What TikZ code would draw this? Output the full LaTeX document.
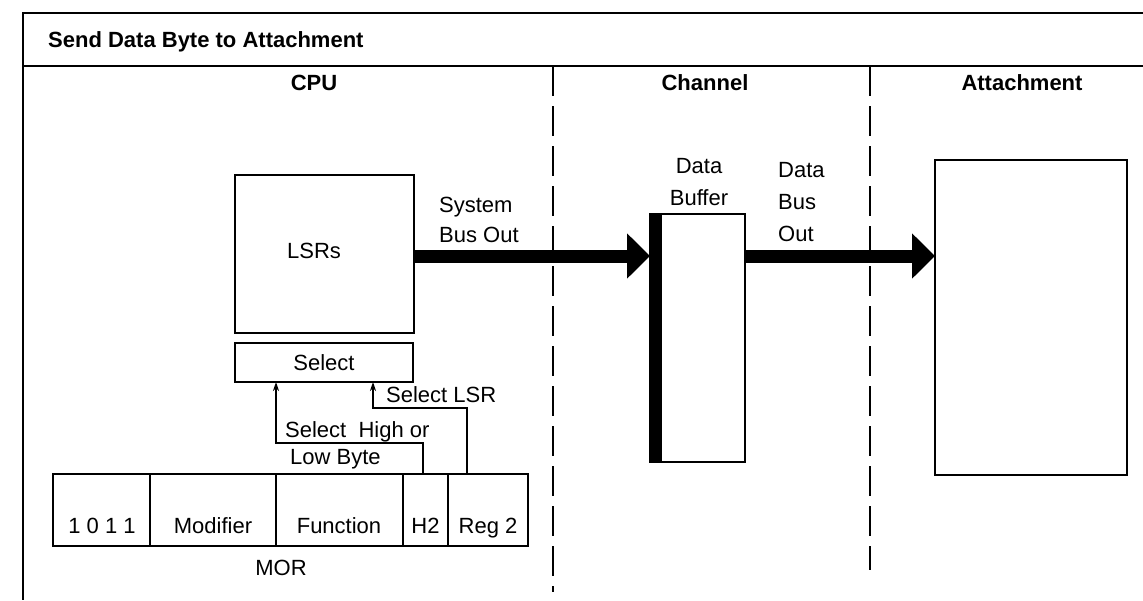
\documentclass[tikz,border=0pt]{standalone}
\usepackage{fontspec}
\setmainfont{Liberation Sans}
\usetikzlibrary{arrows.meta}
\begin{document}
\begin{tikzpicture}[x=1pt,y=-1pt,
  box/.style={draw, line width=2.5pt, inner sep=0pt, outer sep=0pt, font=\fontsize{22}{30}\selectfont},
  lbl/.style={font=\fontsize{22}{30}\selectfont, inner sep=0pt},
  hdr/.style={font=\fontsize{22}{26}\selectfont\bfseries, inner sep=0pt},
  frame/.style={line width=2.5pt},
  divline/.style={line width=2.5pt, dash pattern=on 30pt off 10pt},
  cellline/.style={line width=1.5pt},
  bigarrow/.style={line width=13pt, -{Triangle[length=23pt,width=44pt]}},
  thinarrow/.style={line width=2pt, -{Stealth[length=9pt,width=6pt]}}
]
\useasboundingbox (0,0) rectangle (1143,600);
% frame
\draw[frame] (1143,13) -- (23,13) -- (23,600);
\draw[frame] (23,66) -- (1143,66);
\node[hdr, anchor=base west] (title) at (48,47) {Send Data Byte to Attachment};
% column dividers
\draw[divline] (553,66) -- (553,592);
\draw[divline] (870,66) -- (870,570);
\node[hdr, anchor=base] (cpu) at (314,90) {CPU};
\node[hdr, anchor=base] (chan) at (705,90) {Channel};
\node[hdr, anchor=base] (attl) at (1022,90) {Attachment};
% LSRs and select
\node[box, minimum width=179pt, minimum height=158pt] (lsr) at (324.5,254) {};
\node[lbl] (lsrt) at (314,251) {LSRs};
\node[box, minimum width=178pt, minimum height=39pt] (sel) at (324,362.5) {Select};
% MOR
\node[box, minimum width=475pt, minimum height=72pt] (mor) at (290.5,510) {};
\draw[cellline] (150,474) -- (150,546);
\draw[cellline] (276,474) -- (276,546);
\draw[cellline] (403,474) -- (403,546);
\draw[cellline] (448,474) -- (448,546);
\node[lbl, anchor=base] (c1) at (102,533) {1 0 1 1};
\node[lbl, anchor=base] (c2) at (213,533) {Modifier};
\node[lbl, anchor=base] (c3) at (339,533) {Function};
\node[lbl, anchor=base] (c4) at (425.5,533) {H2};
\node[lbl, anchor=base] (c5) at (488,533) {Reg 2};
\node[lbl, anchor=base] (mort) at (281,575) {MOR};
% select lines
\coordinate (hb) at (423,474);
\coordinate (selA) at (276,382);
\coordinate (rg) at (467,474);
\coordinate (selB) at (373,382);
\draw[thinarrow] (hb) -- (423,443) -- (276,443) -- (selA);
\draw[thinarrow] (rg) -- (467,408) -- (373,408) -- (selB);
\node[lbl, anchor=base west] (slsr) at (386,402) {Select LSR};
\node[lbl, anchor=base west] (shi) at (285,437) {Select\ \ High or};
\node[lbl, anchor=base west] (slo) at (290,464) {Low Byte};
% data buffer
\node[box, minimum width=95pt, minimum height=248pt] (buf) at (697.5,338) {};
\fill (650,214) rectangle (662,462);
\node[lbl, anchor=base] (db1) at (699,173) {Data};
\node[lbl, anchor=base] (db2) at (699,205) {Buffer};
% attachment box
\node[box, minimum width=192pt, minimum height=315pt] (att) at (1031,317.5) {};
% big arrows
\coordinate (ya) at (0,256);
\draw[bigarrow] (lsr.east |- ya) -- (buf.west |- ya);
\draw[bigarrow] (buf.east |- ya) -- (att.west |- ya);
\node[lbl, anchor=base west] (sb1) at (439,212) {System};
\node[lbl, anchor=base west] (sb2) at (439,242) {Bus Out};
\node[lbl, anchor=base west] (dbo1) at (778,177) {Data};
\node[lbl, anchor=base west] (dbo2) at (778,209) {Bus};
\node[lbl, anchor=base west] (dbo3) at (778,241) {Out};
\end{tikzpicture}
\end{document}
